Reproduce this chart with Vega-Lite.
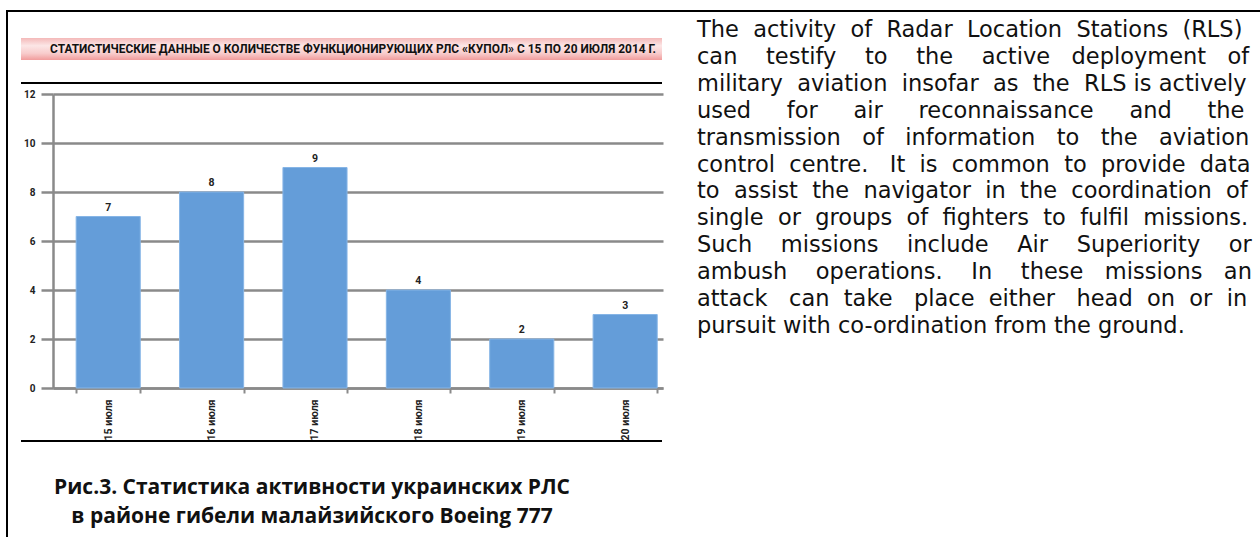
{
  "$schema": "https://vega.github.io/schema/vega-lite/v6.json",
  "background": "white",
  "padding": {"left": 6, "top": 10, "right": 0, "bottom": 0},
  "autosize": {"type": "pad"},
  "config": {"view": {"stroke": null}, "font": "Open Sans", "concat": {"spacing": 0}},
  "spacing": 0,
  "vconcat": [
    {"width": 1254, "height": 2, "data": {"values": [{}]}, "mark": {"type": "rect", "color": "black"}},
    {
      "spacing": 0,
      "hconcat": [
        {"width": 2, "height": 525, "data": {"values": [{}]}, "mark": {"type": "rect", "color": "black"}},
        {"width": 13, "height": 1, "data": {"values": []}, "mark": "rect"},
        {
          "spacing": 0,
          "vconcat": [
            {"width": 641, "height": 26, "data": {"values": []}, "mark": "rect"},
            {
              "width": 641,
              "height": 22,
              "data": {"values": [{"t": "СТАТИСТИЧЕСКИЕ ДАННЫЕ О КОЛИЧЕСТВЕ ФУНКЦИОНИРУЮЩИХ РЛС «КУПОЛ» С 15 ПО 20 ИЮЛЯ 2014 Г."}]},
              "layer": [
                {
                  "mark": {"type": "rect", "fill": {"gradient": "linear", "x1": 0, "y1": 0, "x2": 0, "y2": 1, "stops": [{"offset": 0, "color": "#f4b9b9"}, {"offset": 0.35, "color": "#fce6e6"}, {"offset": 0.7, "color": "#f8cccc"}, {"offset": 1, "color": "#f19c9c"}]}},
                  "encoding": {"x": {"datum": 0, "type": "quantitative", "scale": {"domain": [0, 1]}, "axis": null}, "x2": {"datum": 1}}
                },
                {
                  "mark": {"type": "text", "font": "Roboto", "fontWeight": "bold", "fontSize": 11.9, "color": "#111111", "align": "center", "baseline": "middle"},
                  "encoding": {"x": {"datum": 0.518, "type": "quantitative"}, "text": {"field": "t"}}
                }
              ]
            },
            {"width": 641, "height": 22, "data": {"values": []}, "mark": "rect"},
            {"width": 641, "height": 2, "data": {"values": [{}]}, "mark": {"type": "rect", "color": "black"}},
            {"width": 641, "height": 5, "data": {"values": []}, "mark": "rect"},
            {
              "spacing": 0,
              "hconcat": [
                {"width": 2, "height": 1, "data": {"values": []}, "mark": "rect"},
                {
                  "width": 610,
                  "height": 294,
                  "data": {"values": [
                    {"date": "15 июля", "count": 7},
                    {"date": "16 июля", "count": 8},
                    {"date": "17 июля", "count": 9},
                    {"date": "18 июля", "count": 4},
                    {"date": "19 июля", "count": 2},
                    {"date": "20 июля", "count": 3}
                  ]},
                  "encoding": {
                    "x": {
                      "field": "date", "type": "nominal", "sort": null,
                      "scale": {"paddingInner": 0.38, "paddingOuter": 0.14, "align": 0.8},
                      "axis": {"title": null, "labelAngle": -90, "labelFont": "Roboto", "labelFontWeight": "bold", "labelFontSize": 10.5, "labelColor": "#222222", "labelPadding": 6, "tickBand": "extent", "tickColor": "#8a8a8a", "tickWidth": 2, "tickSize": 5, "domainColor": "#8a8a8a", "domainWidth": 2.5, "grid": false}
                    },
                    "y": {
                      "field": "count", "type": "quantitative",
                      "scale": {"domain": [0, 12], "nice": false},
                      "axis": {"title": null, "values": [0, 2, 4, 6, 8, 10, 12], "labelFont": "Roboto", "labelFontWeight": "bold", "labelFontSize": 10, "labelColor": "#222222", "labelPadding": 6, "tickColor": "#8a8a8a", "tickWidth": 2.5, "tickSize": 12, "domainColor": "#8a8a8a", "domainWidth": 2.5, "grid": true, "gridColor": "#8a8a8a", "gridWidth": 2.5, "gridOpacity": 1}
                    }
                  },
                  "layer": [
                    {"mark": {"type": "bar", "color": "#649dd9", "stroke": "#86b5e6", "strokeWidth": 1}},
                    {"mark": {"type": "text", "baseline": "bottom", "dy": -4, "font": "Roboto", "fontWeight": "bold", "fontSize": 10.5, "color": "#222222"}, "encoding": {"text": {"field": "count"}}}
                  ]
                }
              ]
            },
            {"width": 641, "height": 2, "data": {"values": [{}]}, "mark": {"type": "rect", "color": "black"}},
            {"width": 641, "height": 31, "data": {"values": []}, "mark": "rect"},
            {
              "width": 582,
              "height": 58,
              "data": {"values": [
                {"line": 1, "t": "Рис.3. Статистика активности украинских РЛС"},
                {"line": 2, "t": "в районе гибели малайзийского Boeing 777"}
              ]},
              "mark": {"type": "text", "font": "Open Sans", "fontWeight": "bold", "fontSize": 21, "color": "#111111", "align": "center", "baseline": "middle"},
              "encoding": {
                "x": {"datum": 0.5, "type": "quantitative", "scale": {"domain": [0, 1]}, "axis": null},
                "y": {"field": "line", "type": "ordinal", "scale": {"type": "band", "paddingInner": 0, "paddingOuter": 0}, "axis": null},
                "text": {"field": "t"}
              }
            }
          ]
        },
        {"width": 34, "height": 1, "data": {"values": []}, "mark": "rect"},
        {
          "width": 553,
          "height": 323,
          "data": {"values": [
            {"line": 1, "t": "The\u00a0 activity\u00a0 of\u00a0 Radar\u00a0 Location\u00a0 Stations\u00a0 (RLS)"},
            {"line": 2, "t": "can\u00a0\u00a0\u00a0 testify\u00a0\u00a0\u00a0 to\u00a0\u00a0\u00a0 the\u00a0\u00a0\u00a0 active\u00a0\u00a0 deployment\u00a0\u00a0 of"},
            {"line": 3, "t": "military\u00a0 aviation\u00a0 insofar\u00a0 as\u00a0 the\u00a0 RLS is actively"},
            {"line": 4, "t": "used\u00a0\u00a0\u00a0\u00a0 for\u00a0\u00a0\u00a0\u00a0 air\u00a0\u00a0\u00a0\u00a0 reconnaissance\u00a0\u00a0\u00a0\u00a0 and\u00a0\u00a0\u00a0\u00a0 the"},
            {"line": 5, "t": "transmission\u00a0\u00a0 of\u00a0\u00a0 information\u00a0\u00a0 to\u00a0\u00a0 the\u00a0\u00a0 aviation"},
            {"line": 6, "t": "control\u00a0 centre.\u00a0\u00a0 It\u00a0 is\u00a0 common\u00a0 to\u00a0 provide\u00a0 data"},
            {"line": 7, "t": "to\u00a0 assist\u00a0 the\u00a0 navigator\u00a0 in\u00a0 the\u00a0 coordination\u00a0 of"},
            {"line": 8, "t": "single\u00a0 or\u00a0 groups\u00a0 of\u00a0 fighters\u00a0 to\u00a0 fulfil\u00a0 missions."},
            {"line": 9, "t": "Such\u00a0\u00a0\u00a0 missions\u00a0\u00a0\u00a0 include\u00a0\u00a0\u00a0 Air\u00a0\u00a0\u00a0 Superiority\u00a0\u00a0\u00a0 or"},
            {"line": 10, "t": "ambush\u00a0\u00a0\u00a0 operations.\u00a0\u00a0\u00a0 In\u00a0\u00a0\u00a0 these\u00a0\u00a0 missions\u00a0\u00a0 an"},
            {"line": 11, "t": "attack\u00a0\u00a0 can\u00a0 take\u00a0\u00a0 place\u00a0 either\u00a0\u00a0 head\u00a0 on\u00a0 or\u00a0 in"},
            {"line": 12, "t": "pursuit with co-ordination from the ground."}
          ]},
          "mark": {"type": "text", "font": "DejaVu Sans", "fontSize": 22.5, "color": "#111111", "align": "left", "baseline": "alphabetic", "dy": 11.5},
          "encoding": {
            "x": {"datum": 0, "type": "quantitative", "scale": {"domain": [0, 1]}, "axis": null},
            "y": {"field": "line", "type": "ordinal", "scale": {"type": "band", "paddingInner": 0, "paddingOuter": 0}, "axis": null},
            "text": {"field": "t"}
          }
        }
      ]
    }
  ]
}
